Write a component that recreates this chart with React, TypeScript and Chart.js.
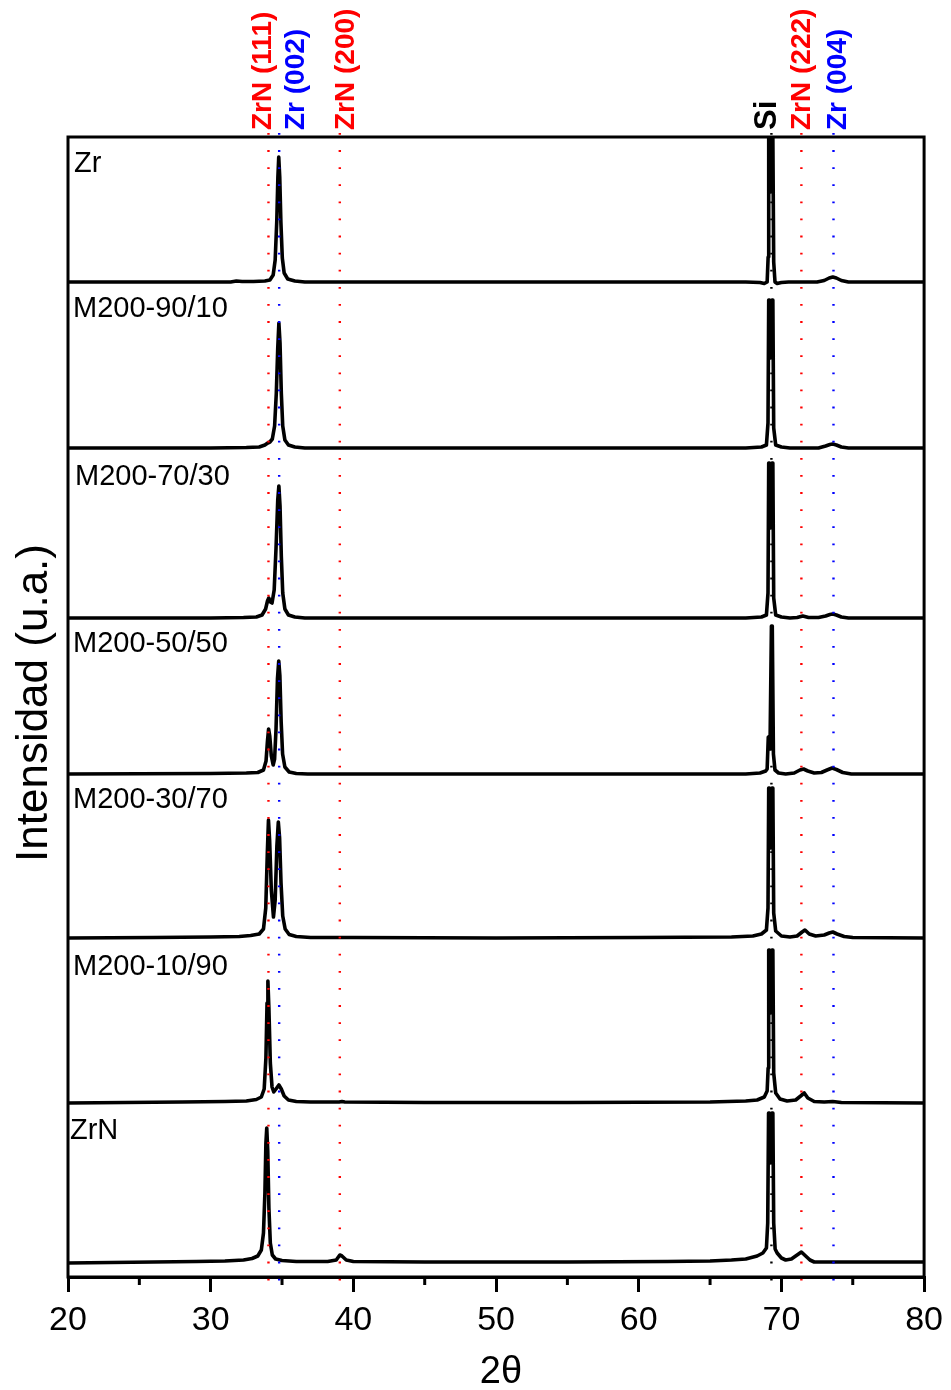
import React, { useEffect, useRef } from 'react';
import { Chart, registerables } from 'chart.js';

Chart.register(...registerables);

type Pt = [number, number];

// Sample names, from top panel to bottom panel
const sampleNames = ['Zr', 'M200-90/10', 'M200-70/30', 'M200-50/50', 'M200-30/70', 'M200-10/90', 'ZrN'];
// Vertical stacking offset of every pattern (a.u.)
const baselineOffsets = [995, 829, 659, 503, 339, 174, 14];

// [2θ, intensity a.u.]
const zrPattern: Pt[] = [
  [20, 0], [28, 0], [31.4, 0], [31.8, 1], [32.2, 0.5], [33.0, 0.5], [33.8, 1], [34.15, 2], [34.38, 7], [34.52, 22],
  [34.63, 60], [34.71, 105], [34.77, 125], [34.84, 105], [34.92, 60], [35.02, 24], [35.15, 9], [35.4, 3], [35.9, 1],
  [36.6, 0], [50, 0], [60, 0], [67.5, 0], [68.5, -0.5], [68.8, -1.5], [69.0, 0], [69.07, 25], [69.11, 145], [69.16, 145],
  [69.25, 90], [69.34, 145], [69.4, 145], [69.46, 20], [69.55, 0], [69.7, -1.5], [70.0, -0.5], [70.5, 0], [72.5, 0],
  [73.0, 1.5], [73.35, 4], [73.6, 5], [73.85, 4], [74.2, 1.5], [74.7, 0], [80, 0],
];
const m9010Pattern: Pt[] = [
  [20, 0], [30, 0], [32.5, 0.5], [33.4, 1], [33.8, 3], [34.0, 5], [34.15, 6], [34.32, 9], [34.48, 22], [34.6, 55],
  [34.7, 100], [34.78, 125], [34.86, 105], [34.95, 55], [35.05, 22], [35.2, 8], [35.45, 3], [35.9, 1], [36.6, 0],
  [67.5, 0], [68.6, 1], [68.95, 3], [69.06, 25], [69.11, 148], [69.16, 148], [69.25, 90], [69.34, 148], [69.4, 148],
  [69.46, 20], [69.6, 3], [70.0, 1], [70.6, 0], [72.6, 0], [73.1, 2], [73.4, 3.5], [73.6, 4], [73.85, 3], [74.2, 1],
  [74.7, 0], [80, 0],
];
const m7030Pattern: Pt[] = [
  [20, 0], [30, 0], [32.3, 0.5], [33.2, 1], [33.6, 3], [33.85, 9], [33.98, 17], [34.07, 20], [34.18, 16], [34.3, 15],
  [34.45, 28], [34.58, 70], [34.7, 118], [34.78, 132], [34.86, 112], [34.95, 62], [35.05, 25], [35.2, 9], [35.45, 3],
  [35.9, 1], [36.6, 0], [67.5, 0], [68.6, 1], [68.95, 3], [69.06, 25], [69.11, 155], [69.16, 155], [69.25, 90],
  [69.34, 155], [69.4, 155], [69.46, 20], [69.6, 3], [70.0, 1], [70.6, 0], [71.1, 0.5], [71.5, 2], [71.9, 0.5],
  [72.6, 0.5], [73.1, 2], [73.4, 3.5], [73.6, 4], [73.85, 3], [74.2, 1], [74.7, 0], [80, 0],
];
const m5050Pattern: Pt[] = [
  [20, 0], [30, 0.5], [32.5, 1], [33.3, 1.5], [33.7, 4], [33.88, 13], [33.98, 33], [34.06, 45], [34.14, 38], [34.25, 18],
  [34.38, 9], [34.48, 15], [34.58, 45], [34.68, 95], [34.77, 113], [34.85, 98], [34.94, 52], [35.04, 20], [35.2, 7],
  [35.5, 2], [36, 0.5], [36.8, 0], [67.5, 0], [68.5, 1], [68.9, 3], [69.0, 5], [69.08, 37], [69.13, 37], [69.2, 25],
  [69.3, 148], [69.36, 148], [69.44, 20], [69.55, 4], [69.8, 1], [70.3, 0], [70.9, 1], [71.3, 4], [71.55, 5],
  [71.85, 3], [72.3, 1], [72.8, 1.5], [73.2, 4], [73.55, 6], [73.85, 4.5], [74.3, 1.5], [74.9, 0], [80, 0],
];
const m3070Pattern: Pt[] = [
  [20, 0], [26, 0.5], [30, 1], [32, 1.5], [32.8, 2.5], [33.4, 4], [33.7, 9], [33.86, 30], [33.97, 85], [34.05, 118],
  [34.13, 98], [34.25, 48], [34.4, 21], [34.52, 38], [34.64, 92], [34.74, 116], [34.83, 100], [34.93, 55], [35.05, 22],
  [35.22, 9], [35.5, 3.5], [36, 1.5], [37, 0.5], [40, 0.5], [50, 0], [60, 0.5], [66.5, 1], [68.0, 2], [68.6, 4],
  [68.95, 8], [69.06, 30], [69.11, 150], [69.16, 150], [69.25, 90], [69.34, 150], [69.4, 150], [69.46, 25], [69.6, 7],
  [70.0, 2], [70.6, 1], [71.1, 2], [71.45, 6], [71.65, 8], [71.95, 4], [72.4, 2], [73.0, 3], [73.35, 5], [73.6, 6],
  [73.9, 4], [74.4, 1.5], [75, 0.5], [80, 0],
];
const m1090Pattern: Pt[] = [
  [20, 0], [24, 0.5], [28, 1], [31, 1.5], [32.5, 2], [33.2, 3.5], [33.55, 6], [33.75, 14], [33.87, 45], [33.95, 100],
  [34.01, 122], [34.08, 95], [34.18, 40], [34.3, 16], [34.42, 11], [34.58, 14], [34.78, 18], [34.95, 14], [35.15, 7],
  [35.45, 3], [36, 1.5], [37, 1], [39.0, 1], [39.2, 1.5], [39.4, 1], [45, 0.5], [55, 0.5], [65, 1], [67.5, 2],
  [68.3, 3], [68.8, 6], [69.0, 12], [69.07, 35], [69.11, 153], [69.16, 153], [69.25, 90], [69.34, 153], [69.4, 153],
  [69.46, 30], [69.6, 10], [69.9, 4], [70.4, 2], [71.0, 3], [71.35, 7], [71.6, 10], [71.85, 5], [72.3, 1.5], [73.0, 1],
  [73.6, 1.5], [74.2, 0.5], [80, 0],
];
const zrnPattern: Pt[] = [
  [20, 0], [23, 0.5], [26, 1], [29, 1.5], [31, 2], [32.3, 3], [32.9, 4.5], [33.3, 7], [33.55, 13], [33.7, 30],
  [33.8, 70], [33.87, 120], [33.93, 135], [34.0, 112], [34.08, 55], [34.18, 20], [34.32, 8], [34.55, 4], [35, 2.5],
  [36, 1.5], [38.2, 1.5], [38.8, 3], [39.05, 8], [39.2, 7], [39.5, 3], [40, 1.5], [45, 1], [55, 1], [62, 1.5], [65, 2],
  [66.5, 3], [67.5, 4], [68.3, 7], [68.7, 10], [68.95, 15], [69.04, 40], [69.1, 150], [69.16, 150], [69.25, 100],
  [69.33, 150], [69.4, 150], [69.46, 40], [69.56, 14], [69.7, 10], [70.0, 5], [70.3, 3], [70.7, 4], [71.0, 7],
  [71.4, 11], [71.7, 7], [72.0, 3], [72.3, 1], [73.5, 1], [80, 1],
];
const patterns: Pt[][] = [zrPattern, m9010Pattern, m7030Pattern, m5050Pattern, m3070Pattern, m1090Pattern, zrnPattern];

// Reference reflections
const refLabels = ['ZrN (111)', 'Zr (002)', 'ZrN (200)', 'Si', 'ZrN (222)', 'Zr (004)'];
const refPositions = [34.05, 34.8, 39.05, 69.3, 71.4, 73.65];
const refPhases = ['ZrN', 'Zr', 'ZrN', 'Si', 'ZrN', 'Zr'];

const xTicks = [20, 30, 40, 50, 60, 70, 80];
const xMinorTicks = [25, 35, 45, 55, 65, 75];

const phaseColor: Record<string, string> = { ZrN: '#ff0000', Zr: '#0000ff', Si: '#000000' };
const labelShift = [2.4, 25, 14, 4.2, 8.8, 12.7];
const labelSize = [28, 28, 28, 31, 28, 28];
const sampleLabelPos: [number, number][] = [
  [74, 172], [73, 317], [75, 485], [73, 652], [73, 808], [73, 975], [70, 1139],
];
const FONT = '"Liberation Sans", Arial, sans-serif';

const overlayPlugin = {
  id: 'overlay',
  afterDatasetsDraw(chart: any) {
    const { ctx, chartArea: a, scales } = chart;
    const x = scales.x;
    ctx.save();
    // dotted reference lines
    refPositions.forEach((pos, i) => {
      const px = x.getPixelForValue(pos);
      ctx.strokeStyle = phaseColor[refPhases[i]];
      ctx.lineWidth = 2.4;
      ctx.setLineDash([1.8, 15.3]);
      ctx.beginPath();
      ctx.moveTo(px, a.top - 4);
      ctx.lineTo(px, a.bottom + 14);
      ctx.stroke();
    });
    ctx.setLineDash([]);
    // frame
    ctx.strokeStyle = '#000';
    ctx.lineWidth = 3;
    ctx.strokeRect(a.left, a.top, a.right - a.left, a.bottom - a.top);
    // minor ticks
    xMinorTicks.forEach((v) => {
      const px = x.getPixelForValue(v);
      ctx.beginPath();
      ctx.moveTo(px, a.bottom);
      ctx.lineTo(px, a.bottom + 8);
      ctx.stroke();
    });
    // peak labels
    ctx.textAlign = 'left';
    ctx.textBaseline = 'alphabetic';
    refLabels.forEach((lab, i) => {
      const px = x.getPixelForValue(refPositions[i]) + labelShift[i];
      ctx.save();
      ctx.font = `bold ${labelSize[i]}px ${FONT}`;
      ctx.translate(px, a.top - 7);
      ctx.rotate(-Math.PI / 2);
      ctx.fillStyle = phaseColor[refPhases[i]];
      ctx.fillText(lab, 0, 0);
      ctx.restore();
    });
    // sample labels
    ctx.fillStyle = '#000';
    ctx.font = `29px ${FONT}`;
    sampleNames.forEach((n, i) => {
      ctx.fillText(n, sampleLabelPos[i][0], sampleLabelPos[i][1]);
    });
    // y title
    ctx.save();
    ctx.translate(35, 703);
    ctx.rotate(-Math.PI / 2);
    ctx.textAlign = 'center';
    ctx.textBaseline = 'middle';
    ctx.font = `44px ${FONT}`;
    ctx.fillText('Intensidad (u.a.)', 0, 0);
    ctx.restore();
    // x title
    ctx.textAlign = 'center';
    ctx.textBaseline = 'alphabetic';
    ctx.font = `38px ${FONT}`;
    ctx.fillText('2θ', 501, 1383);
    ctx.restore();
  },
};

export default function App() {
  const ref = useRef<HTMLCanvasElement>(null);
  useEffect(() => {
    document.body.style.margin = '0';
    if (!ref.current) return;
    const chart = new Chart(ref.current, {
      type: 'line',
      data: {
        datasets: patterns.map((p, i) => ({
          label: sampleNames[i],
          data: p.map(([t, v]) => ({ x: t, y: v + baselineOffsets[i] })),
          borderColor: '#000',
          borderWidth: 3.6,
          pointRadius: 0,
          tension: 0,
          borderJoinStyle: 'round' as const,
          borderCapStyle: 'round' as const,
          fill: false,
        })),
      },
      options: {
        responsive: false,
        animation: false,
        devicePixelRatio: 1,
        events: [],
        layout: { padding: { left: 68, right: 25, top: 137, bottom: 0 } },
        plugins: { legend: { display: false }, tooltip: { enabled: false } },
        scales: {
          x: {
            type: 'linear',
            min: 20,
            max: 80,
            afterFit: (s: any) => { s.height = 113; },
            afterBuildTicks: (s: any) => { s.ticks = xTicks.map((v) => ({ value: v })); },
            border: { display: true, width: 3, color: '#000' },
            grid: { display: true, drawOnChartArea: false, drawTicks: true, tickLength: 15, lineWidth: 3, color: '#000' },
            ticks: {
              color: '#000',
              font: { family: FONT, size: 34 },
              padding: 8,
              maxRotation: 0,
              autoSkip: false,
            },
          },
          y: { type: 'linear', min: 0, max: 1140, display: false },
        },
      },
      plugins: [overlayPlugin],
    });
    return () => chart.destroy();
  }, []);
  return <canvas ref={ref} width={951} height={1390} style={{ display: 'block', width: 951, height: 1390 }} />;
}
